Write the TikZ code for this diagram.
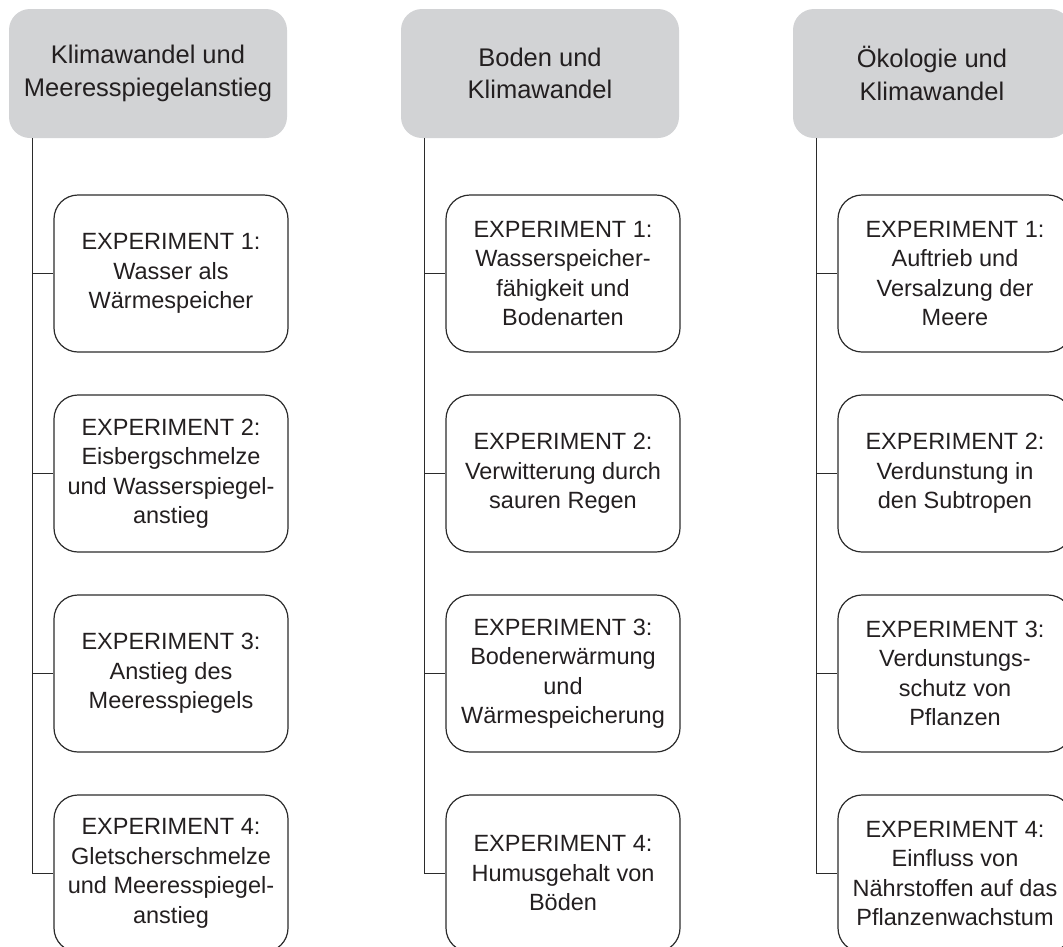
\documentclass[tikz,border=0pt]{standalone}
\usepackage{fontspec}
\setmainfont{Liberation Sans}
\definecolor{headgray}{HTML}{D2D3D5}
\definecolor{linecol}{HTML}{2B2B2B}
\definecolor{txt}{HTML}{231F20}
\begin{document}
\begin{tikzpicture}[x=1pt,y=-1pt,
  head/.style={fill=headgray, rounded corners=21pt, minimum width=278pt, minimum height=129pt, align=center, text=txt, inner sep=0pt, font=\fontsize{25.5}{32.5}\selectfont},
  expbox/.style={draw=linecol, line width=1.2pt, rounded corners=24pt, minimum width=234pt, minimum height=157pt, align=center, text=txt, inner sep=0pt, font=\fontsize{23.5}{29.5}\selectfont},
  conn/.style={draw=linecol, line width=1.2pt}]
\useasboundingbox (0,0) rectangle (1063,946);
\clip (0,0) rectangle (1063,946);
% headers
\node[head] (h1) at (148,73.5) {Klimawandel und\\Meeresspiegelanstieg};
\node[head] (h2) at (540,73.5) {Boden und\\Klimawandel};
\node[head] (h3) at (932,73.5) {Ökologie und\\Klimawandel};
% column 1
\node[expbox] (e11) at (171,273.5) {EXPERIMENT 1:\\Wasser als\\Wärmespeicher};
\node[expbox] (e12) at (171,473.5) {EXPERIMENT 2:\\Eisbergschmelze\\und Wasserspiegel-\\anstieg};
\node[expbox] (e13) at (171,673.5) {EXPERIMENT 3:\\Anstieg des\\Meeresspiegels};
\node[expbox] (e14) at (171,873.5) {EXPERIMENT 4:\\Gletscherschmelze\\und Meeresspiegel-\\anstieg};
% column 2
\node[expbox] (e21) at (563,273.5) {EXPERIMENT 1:\\Wasserspeicher-\\fähigkeit und\\Bodenarten};
\node[expbox] (e22) at (563,473.5) {EXPERIMENT 2:\\Verwitterung durch\\sauren Regen};
\node[expbox] (e23) at (563,673.5) {EXPERIMENT 3:\\Bodenerwärmung\\und\\Wärmespeicherung};
\node[expbox] (e24) at (563,873.5) {EXPERIMENT 4:\\Humusgehalt von\\Böden};
% column 3
\node[expbox] (e31) at (955,273.5) {EXPERIMENT 1:\\Auftrieb und\\Versalzung der\\Meere};
\node[expbox] (e32) at (955,473.5) {EXPERIMENT 2:\\Verdunstung in\\den Subtropen};
\node[expbox] (e33) at (955,673.5) {EXPERIMENT 3:\\Verdunstungs-\\schutz von\\Pflanzen};
\node[expbox] (e34) at (955,873.5) {EXPERIMENT 4:\\Einfluss von\\Nährstoffen auf das\\Pflanzenwachstum};
% connectors
\foreach \c in {1,2,3}{
  \coordinate (t\c) at ([xshift=24pt]h\c.south west);
  \draw[conn] (t\c) |- (e\c4.west);
  \foreach \r in {1,2,3}{
    \draw[conn] (e\c\r.west -| t\c) -- (e\c\r.west);
  }
}
\end{tikzpicture}
\end{document}
